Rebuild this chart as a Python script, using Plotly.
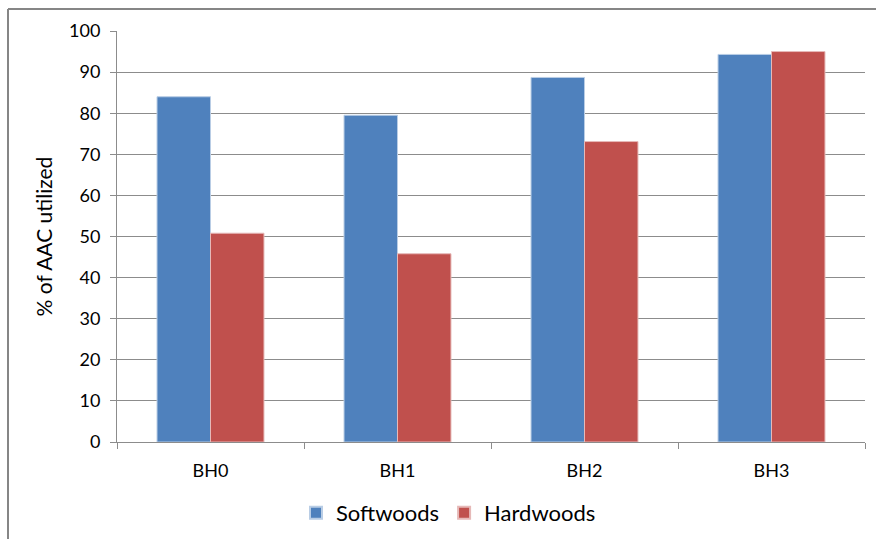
import plotly.graph_objects as go

categories = ["BH0", "BH1", "BH2", "BH3"]
softwoods = [84.0, 79.5, 88.7, 94.3]
hardwoods = [50.8, 45.8, 73.1, 95.0]
y_ticks = [0, 10, 20, 30, 40, 50, 60, 70, 80, 90, 100]

FONT = "Lato, Carlito, 'Open Sans', sans-serif"
GRID = "#8c8c8c"

fig = go.Figure()
fig.add_trace(go.Bar(
    name="Softwoods", x=categories, y=softwoods,
    marker=dict(color="#4F81BD", line=dict(color="#b9cde5", width=1)),
))
fig.add_trace(go.Bar(
    name="Hardwoods", x=categories, y=hardwoods,
    marker=dict(color="#C0504D", line=dict(color="#e6b9b8", width=1)),
))

L, R, T, B = 117, 11, 31, 97
W, H = 876, 539
pw, ph = W - L - R, H - T - B

def px(x):
    return (x - L) / pw

def py(y):
    return (H - B - y) / ph

fig.update_layout(
    width=W, height=H,
    margin=dict(l=L, r=R, t=T, b=B, autoexpand=False),
    paper_bgcolor="white", plot_bgcolor="white",
    barmode="group", bargap=0.428, bargroupgap=0,
    font=dict(family=FONT, color="#000000"),
    showlegend=True,
    legend=dict(
        orientation="h", x=px(296), xanchor="left", y=py(513), yanchor="middle",
        font=dict(size=22, family=FONT), traceorder="normal",
        itemsizing="constant", itemwidth=30,
    ),
    shapes=[
        dict(type="line", xref="paper", yref="paper",
             x0=px(8), x1=px(876), y0=py(9), y1=py(9),
             line=dict(color="#868686", width=2)),
        dict(type="line", xref="paper", yref="paper",
             x0=px(8), x1=px(8), y0=py(9), y1=py(539),
             line=dict(color="#868686", width=2)),
    ],
)

fig.update_yaxes(
    range=[0, 100], tickvals=y_ticks,
    showgrid=True, gridcolor=GRID, gridwidth=1,
    showline=True, linecolor=GRID, linewidth=1,
    ticks="outside", ticklen=6, tickcolor=GRID, ticklabelstandoff=6,
    tickfont=dict(size=18, family=FONT),
    title=dict(text="% of AAC utilized", font=dict(size=21, family=FONT), standoff=10),
    zeroline=False,
)
fig.update_xaxes(
    showline=True, linecolor=GRID, linewidth=1,
    ticks="outside", ticklen=6, tickcolor=GRID, tickson="boundaries",
    ticklabelstandoff=12,
    tickfont=dict(size=18, family=FONT),
    showgrid=False,
)

fig.write_html("out.html")
